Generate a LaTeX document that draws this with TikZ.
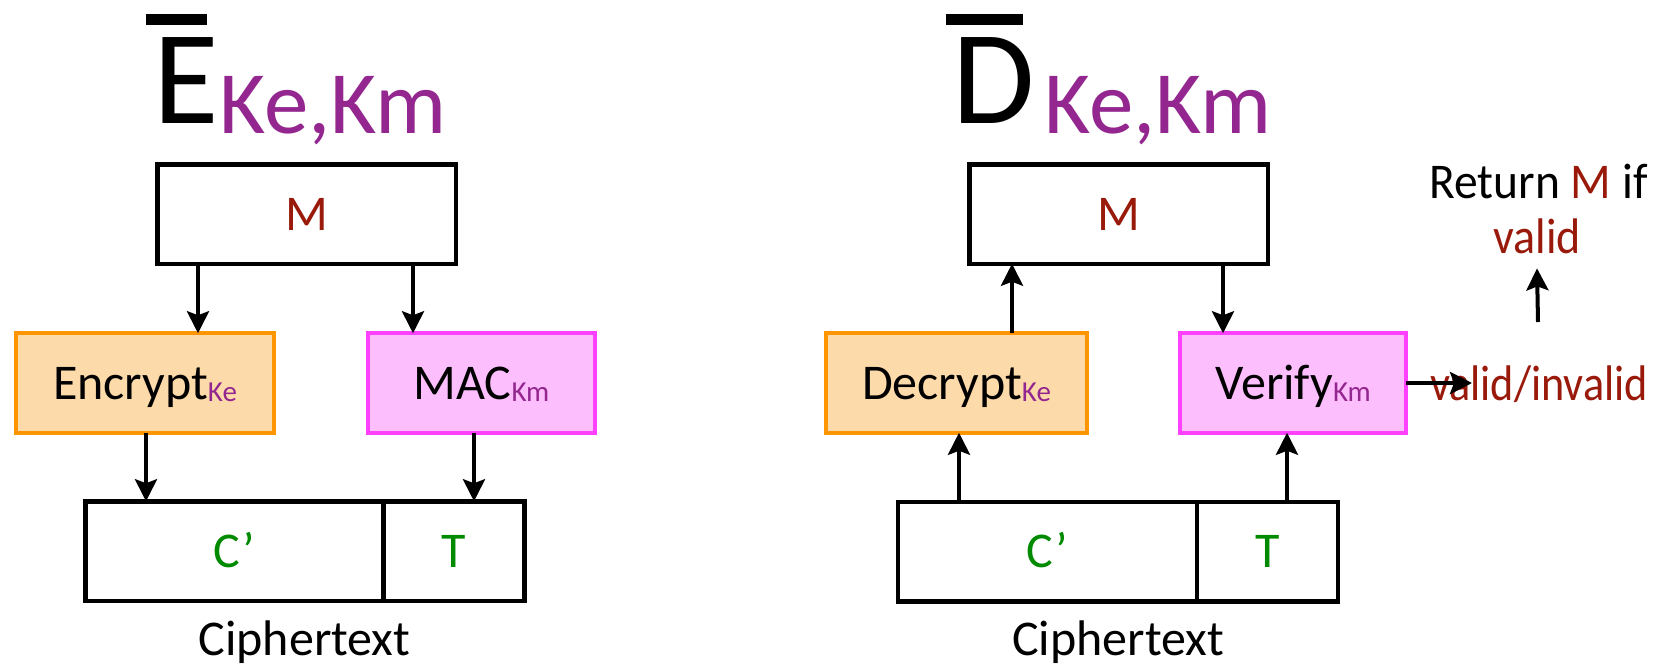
\documentclass[tikz,border=0pt]{standalone}
\usepackage{fontspec}
\setmainfont{Carlito}
\usetikzlibrary{arrows.meta}

\definecolor{mred}{RGB}{153,25,10}
\definecolor{kpurple}{RGB}{147,39,143}
\definecolor{cgreen}{RGB}{0,138,0}
\definecolor{orangeline}{RGB}{255,149,0}
\definecolor{orangefill}{RGB}{253,218,170}
\definecolor{pinkline}{RGB}{255,64,255}
\definecolor{pinkfill}{RGB}{252,190,252}

% key subscript inside the boxes
\newcommand\keysub[1]{{\fontsize{29}{29}\selectfont\color{kpurple}\raisebox{-2pt}{#1}}}
% big title letter with a bar over it, followed by the key pair
% #1 letter, #2 bar offset, #3 bar length, #4 gap before the keys
\newcommand\bartitle[4]{{\fontsize{134}{134}\selectfont
  \rlap{\kern#2\raisebox{98pt}{\rule{#3}{11pt}}}#1}\kern#4%
  {\fontsize{89}{89}\selectfont\color{kpurple}\raisebox{-10pt}{Ke,Km}}}
% horizontally condensed label
\newcommand\condensed[2]{\scalebox{#1}[1]{#2}}

\begin{document}
\begin{tikzpicture}[x=1pt,y=-1pt,
  every node/.style={inner sep=0pt, outer sep=0pt},
  lbl/.style={font=\fontsize{50}{50}\selectfont},
  boxbase/.style={lbl, text height=32pt, text depth=0pt, minimum height=99.5pt},
  blkbox/.style={boxbase, draw=black, line width=4.5pt, fill=white},
  encbox/.style={boxbase, draw=orangeline, fill=orangefill, line width=4pt},
  macbox/.style={boxbase, draw=pinkline, fill=pinkfill, line width=4pt},
  arr/.style={line width=4pt, -{Stealth[length=22pt,width=22pt,inset=4pt]}},
]
\useasboundingbox (0,0) rectangle (1670,665);

% ---------------- encryption side ----------------
\node[anchor=base west] (tE) at (153,123) {\bartitle{E}{-7pt}{61pt}{1pt}};

\node[blkbox, minimum width=298.5pt, text=mred] (mL) at (306.5,214) {M};
\node[encbox, minimum width=258pt] (encL) at (145,383) {Encrypt\keysub{Ke}};
\node[macbox, minimum width=227pt] (macL) at (481.5,383) {MAC\keysub{Km}};
\node[blkbox, minimum width=298.5pt, text=cgreen] (cL) at (234.5,551) {C’};
\node[blkbox, minimum width=141pt, text=cgreen] (tL) at (454,551) {T};
\node[lbl, anchor=base] (ctL) at (304.5,655) {Ciphertext};

\draw[arr] ([xshift=-108.5pt]mL.south) -- ([xshift=53pt]encL.north);
\draw[arr] ([xshift=106.5pt]mL.south) -- ([xshift=-68.5pt]macL.north);
\draw[arr] ([xshift=1pt]encL.south) -- ([xshift=-88.5pt]cL.north);
\draw[arr] ([xshift=-7.5pt]macL.south) -- ([xshift=20pt]tL.north);

% ---------------- decryption side ----------------
\node[anchor=base west] (tD) at (952,123) {\bartitle{D}{-6pt}{77pt}{10pt}};

\node[blkbox, minimum width=298.5pt, text=mred] (mR) at (1118.5,214) {M};
\node[encbox, minimum width=261pt] (decR) at (956.5,383) {Decrypt\keysub{Ke}};
\node[macbox, minimum width=226pt] (verR) at (1293,383) {Verify\keysub{Km}};
\node[blkbox, minimum width=299pt, text=cgreen] (cR) at (1047.5,551.5) {C’};
\node[blkbox, minimum width=141pt, text=cgreen] (tR) at (1267.5,551.5) {T};
\node[lbl, anchor=base] (ctR) at (1118,655) {Ciphertext};

\node[lbl, anchor=base, text=mred] (vinv) at (1539,400) {\condensed{0.885}{valid/invalid}};
\node[lbl, anchor=base] (ret) at (1538.5,198) {\condensed{0.95}{Return \textcolor{mred}{M} if}};
\node[lbl, anchor=base, text=mred] (valid) at (1537,253) {\condensed{0.92}{valid}};
\coordinate (vtip) at (1472,383);
\coordinate (upfoot) at (1538,322);

\draw[arr] ([xshift=55.5pt]decR.north) -- ([xshift=-106.5pt]mR.south);
\draw[arr] ([xshift=104.5pt]mR.south) -- ([xshift=-70pt]verR.north);
\draw[arr] ([xshift=-88.5pt]cR.north) -- ([xshift=2.5pt]decR.south);
\draw[arr] ([xshift=19.5pt]tR.north) -- ([xshift=-6pt]verR.south);
\draw[arr] (verR.east) -- (vtip);
\draw[arr] (upfoot) -- ([yshift=-15pt]valid.south);
\end{tikzpicture}
\end{document}
